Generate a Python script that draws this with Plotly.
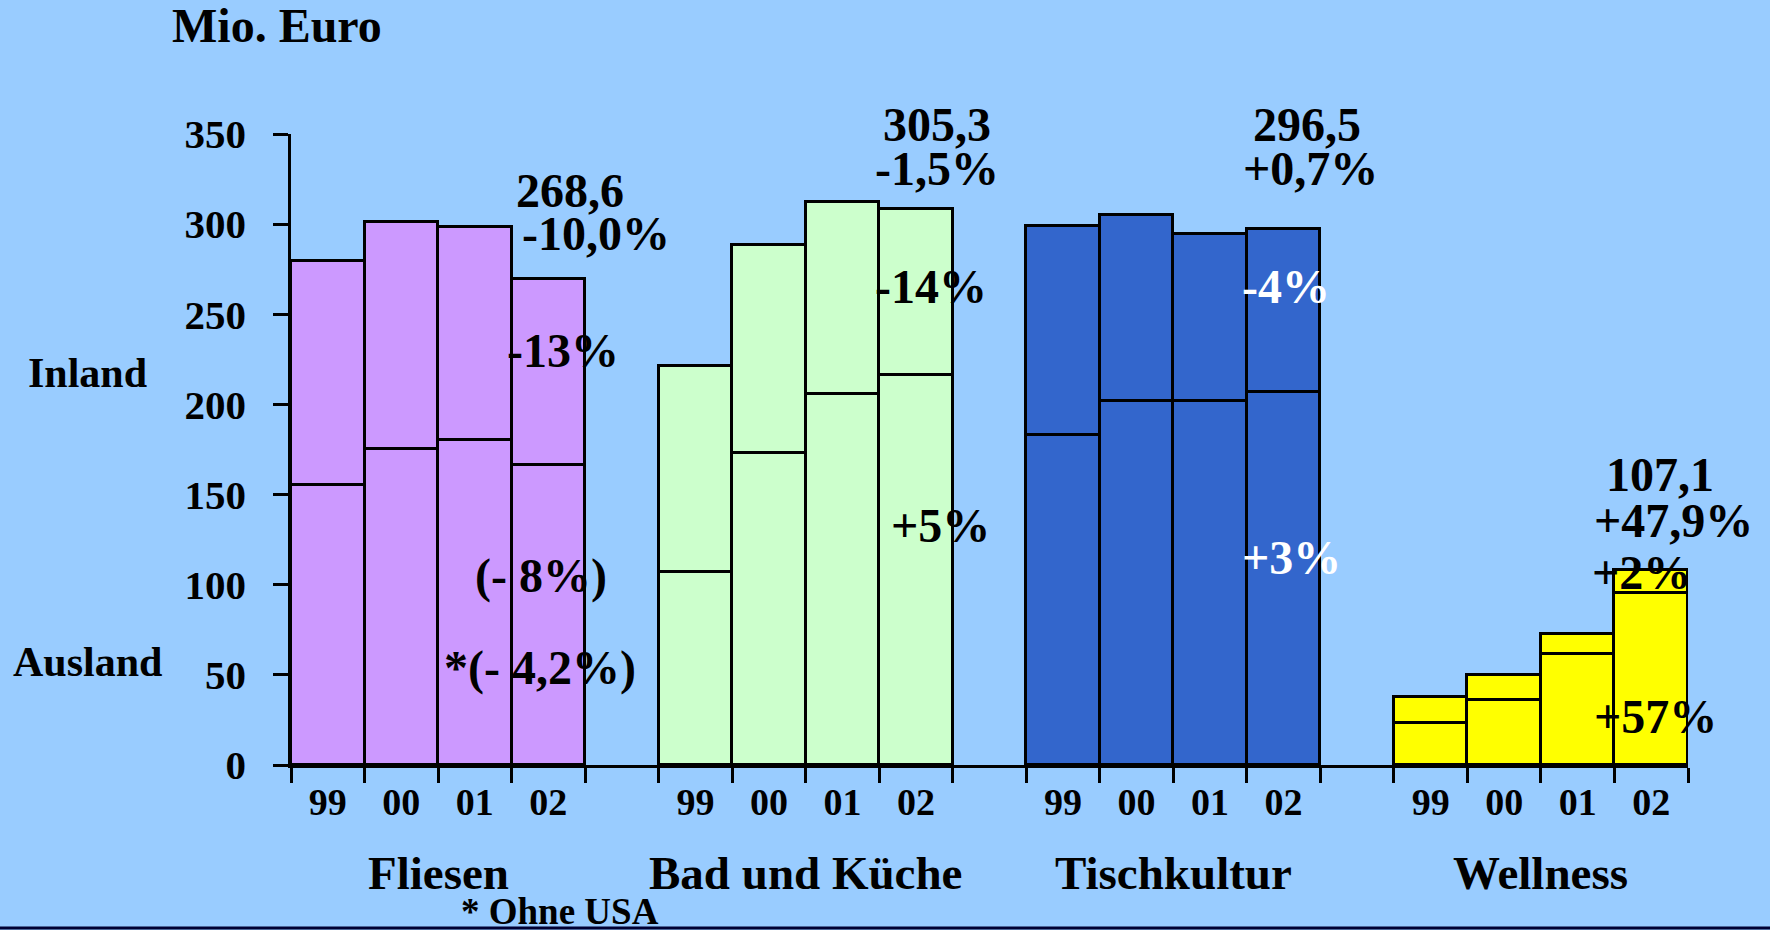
import plotly.graph_objects as go

# ---------------- data ----------------
groups = ["Fliesen", "Bad und Küche", "Tischkultur", "Wellness"]
years = ["99", "00", "01", "02"]

# lower segment (Ausland) and total bar height, Mio. Euro
fliesen_lower = [155.5, 175.5, 180.5, 166.5]
fliesen_total = [279.5, 301.0, 298.5, 269.5]
bad_lower = [107.0, 173.0, 206.0, 216.5]
bad_total = [221.5, 288.5, 312.5, 308.5]
tisch_lower = [183.0, 202.0, 202.0, 207.0]
tisch_total = [299.0, 305.0, 294.5, 297.5]
well_lower = [23.5, 36.0, 61.5, 95.5]
well_total = [37.5, 50.0, 72.5, 108.0]

colors = ["#CC99FF", "#CCFFCC", "#3366CC", "#FFFF00"]
y_ticks = [0, 50, 100, 150, 200, 250, 300, 350]

lowers = [fliesen_lower, bad_lower, tisch_lower, well_lower]
totals = [fliesen_total, bad_total, tisch_total, well_total]

FONT = "Liberation Serif, Times New Roman, serif"
LW = 2.6

fig = go.Figure()

centers_all = []
for g, (lo, tot, col) in enumerate(zip(lowers, totals, colors)):
    xs = [g * 5 + i + 0.5 for i in range(len(years))]
    centers_all += xs
    upper = [t - l for t, l in zip(tot, lo)]
    fig.add_trace(go.Bar(x=xs, y=lo, width=1, marker=dict(color=col, line=dict(color="black", width=LW)),
                         showlegend=False, hoverinfo="skip"))
    fig.add_trace(go.Bar(x=xs, y=upper, width=1, marker=dict(color=col, line=dict(color="black", width=LW)),
                         showlegend=False, hoverinfo="skip"))

W, H = 1770, 930
L, R, T, B = 291, 82, 134, 165
PW, PH = W - L - R, H - T - B

fig.update_layout(
    width=W, height=H, autosize=False,
    margin=dict(l=L, r=R, t=T, b=B, pad=0),
    paper_bgcolor="#99CCFF", plot_bgcolor="#99CCFF",
    barmode="stack", bargap=0,
    font=dict(family=FONT, color="black", weight="bold"),
    xaxis=dict(
        range=[0, 19], showgrid=False, zeroline=False,
        showline=True, linecolor="black", linewidth=LW,
        tickvals=centers_all, ticktext=years * 4, ticks="",
        tickfont=dict(family=FONT, size=38, color="black", weight="bold"),
        ticklabelstandoff=2,
        minor=dict(ticks="outside", tick0=0, dtick=1, ticklen=15, tickwidth=LW, tickcolor="black", showgrid=False),
    ),
    yaxis=dict(
        range=[0, 350], showgrid=False, zeroline=False,
        showline=True, linecolor="black", linewidth=LW,
        tickvals=y_ticks, ticks="outside", ticklen=15, tickwidth=LW, tickcolor="black",
        tickfont=dict(family=FONT, size=41, color="black", weight="bold"),
        ticklabelstandoff=19,
    ),
)

def ann(text, x, y, size=48, color="black", xref="x", yref="y", xanchor="center", yanchor="middle"):
    fig.add_annotation(text=text, x=x, y=y, xref=xref, yref=yref, showarrow=False,
                       xanchor=xanchor, yanchor=yanchor,
                       font=dict(family=FONT, size=size, color=color, weight="bold"))

def py(pix):
    """paper y for a pixel row"""
    return (H - B - pix) / PH

# title / side labels
ann("Mio. Euro", -0.01, py(25), size=48, xref="paper", yref="paper")
ann("Inland", -0.146, 217.5, size=42, xref="paper")
ann("Ausland", -0.146, 56.9, size=42, xref="paper")

# group labels
for g, name in enumerate(groups):
    ann(name, g * 5 + 2, py(873), size=47, yref="paper")
ann("* Ohne USA", 0.1926, py(911), size=37, xref="paper", yref="paper")

# value / percentage annotations
ann("268,6", 3.79, 318.5)
ann("-10,0%", 4.15, 294.7)
ann("305,3", 8.79, py(124), yref="paper")
ann("-1,5%", 8.79, 330.7)
ann("296,5", 13.82, py(124), yref="paper")
ann("+0,7%", 13.86, 330.7)
ann("107,1", 18.62, 161.3)
ann("+47,9%", 18.80, 135.8)
ann("+2%", 18.37, 107)
ann("+57%", 18.56, 26.8)
ann("-13%", 3.70, 230)
ann("(- 8%)", 3.40, 104.8)
ann("*(- 4,2%)", 3.39, 53.9)
ann("-14%", 8.70, 265.4)
ann("+5%", 8.83, 133)
ann("-4%", 13.53, 265.4, color="white")
ann("+3%", 13.61, 115.3, color="white")

# bottom rule
fig.add_shape(type="line", xref="paper", yref="paper",
              x0=-L / PW, x1=(W - L) / PW, y0=py(928), y1=py(928),
              line=dict(color="#000033", width=3))

fig.write_html("out.html")
